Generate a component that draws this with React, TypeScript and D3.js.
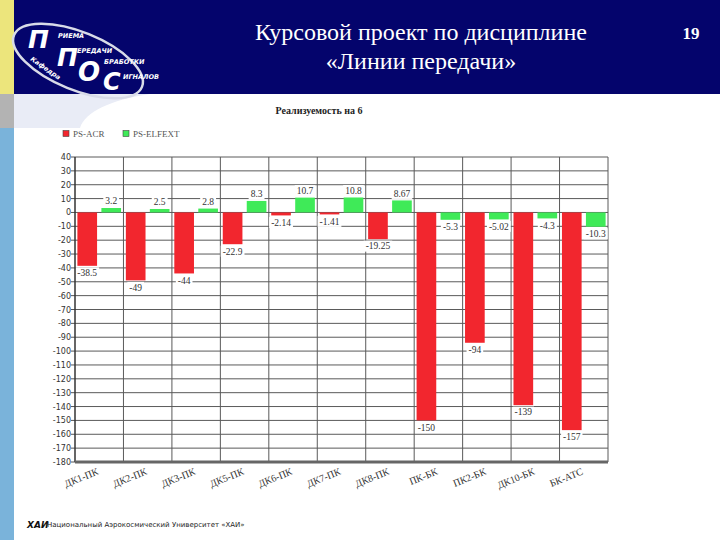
import React from "react";
import * as d3 from "d3";

const categories = ["ДК1-ПК", "ДК2-ПК", "ДК3-ПК", "ДК5-ПК", "ДК6-ПК", "ДК7-ПК", "ДК8-ПК", "ПК-БК", "ПК2-БК", "ДК10-БК", "БК-АТС"];
const psAcr = [-38.5, -49, -44, -22.9, -2.14, -1.41, -19.25, -150, -94, -139, -157];
const psElfext = [3.2, 2.5, 2.8, 8.3, 10.7, 10.8, 8.67, -5.3, -5.02, -4.3, -10.3];
const acrLabels = ["-38.5", "-49", "-44", "-22.9", "-2.14", "-1.41", "-19.25", "-150", "-94", "-139", "-157"];
const elfLabels = ["3.2", "2.5", "2.8", "8.3", "10.7", "10.8", "8.67", "-5.3", "-5.02", "-4.3", "-10.3"];
const seriesNames = ["PS-ACR", "PS-ELFEXT"];
const yTicks = d3.range(-180, 41, 10);

const RED = "#f2262e";
const GREEN = "#3fea58";

function textW(s: string, fs: number) {
  let w = 0;
  for (const c of s) {
    if (c === "-") w += 0.333;
    else if (c === ".") w += 0.25;
    else w += 0.5;
  }
  return w * fs;
}

export default function App() {
  const W = 720, H = 540;
  const left = 75, right = 608, top = 157, bottom = 462;
  const x = d3.scaleBand<string>().domain(categories).range([left, right]).paddingInner(0).paddingOuter(0);
  const xs = d3.scaleBand<string>().domain(["acr", "elf"]).range([0, x.bandwidth()]).paddingInner(0.18).paddingOuter(0.1);
  const y = d3.scaleLinear().domain([-180, 40]).range([bottom, top]);
  const lfs = 9.5;

  const bars: any[] = [];
  categories.forEach((c, i) => {
    [["acr", psAcr[i], acrLabels[i], RED], ["elf", psElfext[i], elfLabels[i], GREEN]].forEach(([k, v, lab, col]: any) => {
      const bx = (x(c) as number) + (xs(k) as number);
      const y0 = y(0), y1 = y(v);
      const ly = v >= 0 ? y1 - 7 : y1 + 7;
      const tw = textW(lab, lfs);
      bars.push(
        <g key={c + k}>
          <rect x={bx} y={Math.min(y0, y1)} width={xs.bandwidth()} height={Math.abs(y1 - y0)} fill={col} />
          <rect x={bx + xs.bandwidth() / 2 - tw / 2 - 2} y={ly - 5.5} width={tw + 4} height={11} fill="#fff" />
          <text x={bx + xs.bandwidth() / 2} y={ly + 3.3} textAnchor="middle" fontSize={lfs} fontFamily="Liberation Serif" fill="#333">{lab}</text>
        </g>
      );
    });
  });

  return (
    <svg width={W} height={H} style={{ position: "absolute", left: 0, top: 0 }}>
      <rect x={0} y={0} width={W} height={H} fill="#fff" />
      {/* left strip */}
      <rect x={0} y={0} width={14} height={94} fill="#ece57c" />
      <rect x={0} y={94} width={14} height={34} fill="#b3b3b3" />
      <rect x={0} y={128} width={14} height={412} fill="#7ab3da" />
      {/* header */}
      <rect x={14} y={0} width={706} height={94} fill="#04046c" />
      <path d="M14,94 L150,94 C110,100 85,112 80,128 L14,128 Z" fill="#e9ecf6" />
      {/* logo */}
      <g>
        <ellipse cx={78} cy={61} rx={69} ry={29} transform="rotate(22 78 61)" fill="none" stroke="#d8dbe8" strokeWidth={2.5} />
        <text x={28} y={48} fontFamily="DejaVu Sans" fontWeight="bold" fontStyle="italic" fontSize={25} fill="#fff">П</text>
        <text x={57} y={66} fontFamily="DejaVu Sans" fontWeight="bold" fontStyle="italic" fontSize={25} fill="#fff">П</text>
        <text x={78} y={81} fontFamily="DejaVu Sans" fontWeight="bold" fontStyle="italic" fontSize={26} fill="#fff">О</text>
        <text x={103} y={90} fontFamily="DejaVu Sans" fontWeight="bold" fontStyle="italic" fontSize={24} fill="#fff">С</text>
        <text x={58} y={38} fontFamily="DejaVu Sans" fontWeight="bold" fontStyle="italic" fontSize={6.5} fill="#fff">РИЕМА</text>
        <text x={77} y={53} fontFamily="DejaVu Sans" fontWeight="bold" fontStyle="italic" fontSize={6.5} fill="#fff">ЕРЕДАЧИ</text>
        <text x={104} y={64} fontFamily="DejaVu Sans" fontWeight="bold" fontStyle="italic" fontSize={6.5} fill="#fff">БРАБОТКИ</text>
        <text x={123} y={79} fontFamily="DejaVu Sans" fontWeight="bold" fontStyle="italic" fontSize={6.5} fill="#fff">ИГНАЛОВ</text>
        <text x={30} y={60} transform="rotate(35 30 60)" fontFamily="DejaVu Sans" fontWeight="bold" fontStyle="italic" fontSize={6.5} fill="#fff">Кафедра</text>
      </g>
      <text x={421} y={40} textAnchor="middle" fontFamily="Liberation Serif" fontSize={24} fill="#fff">Курсовой проект по дисциплине</text>
      <text x={421} y={69} textAnchor="middle" fontFamily="Liberation Serif" fontSize={24} fill="#fff">«Линии передачи»</text>
      <text x={691} y={39} textAnchor="middle" fontFamily="Liberation Serif" fontWeight="bold" fontSize={17} fill="#fff">19</text>

      {/* chart title */}
      <text x={319} y={114} textAnchor="middle" fontFamily="Liberation Serif" fontWeight="bold" fontSize={10} fill="#222">Реализуемость на 6</text>
      {/* legend */}
      {seriesNames.map((s, i) => (
        <g key={s} transform={`translate(${i === 0 ? 63 : 123},134)`}>
          <rect x={0} y={-3.5} width={6} height={6} fill={i === 0 ? RED : GREEN} stroke="#444" strokeWidth={0.6} />
          <text x={10} y={2.5} fontFamily="Liberation Serif" fontSize={9} fill="#555">{s}</text>
        </g>
      ))}

      {/* grid */}
      {yTicks.map((t) => (
        <g key={t}>
          <line x1={left} x2={right} y1={y(t)} y2={y(t)} stroke="#5a5a5a" strokeWidth={1} />
          <line x1={left - 4} x2={left} y1={y(t)} y2={y(t)} stroke="#555" strokeWidth={1} />
          <text x={left - 4} y={y(t) + 3} textAnchor="end" fontFamily="DejaVu Sans" fontSize={8} fill="#333">{t}</text>
        </g>
      ))}
      {categories.map((c) => (
        <line key={c} x1={(x(c) as number) + x.bandwidth()} x2={(x(c) as number) + x.bandwidth()} y1={top} y2={bottom} stroke="#5a5a5a" strokeWidth={1} />
      ))}
      {bars}
      <line x1={left} x2={left} y1={top} y2={bottom} stroke="#333" strokeWidth={1.5} />
      <line x1={left} x2={right} y1={bottom} y2={bottom} stroke="#666" strokeWidth={3} />
      {categories.map((c) => {
        const cx = (x(c) as number) + x.bandwidth() / 2;
        return (
          <text key={c} x={cx} y={bottom + 12} transform={`rotate(-22 ${cx} ${bottom + 12})`} textAnchor="end" fontFamily="Liberation Serif" fontSize={10} fill="#333">{c}</text>
        );
      })}

      {/* footer */}
      <text x={27} y={528} fontFamily="DejaVu Sans" fontWeight="bold" fontStyle="italic" fontSize={9} fill="#111">ХАИ</text>
      <text x={47} y={527} fontFamily="DejaVu Sans" fontSize={7} fill="#222">Национальный Аэрокосмический Университет «ХАИ»</text>
    </svg>
  );
}
